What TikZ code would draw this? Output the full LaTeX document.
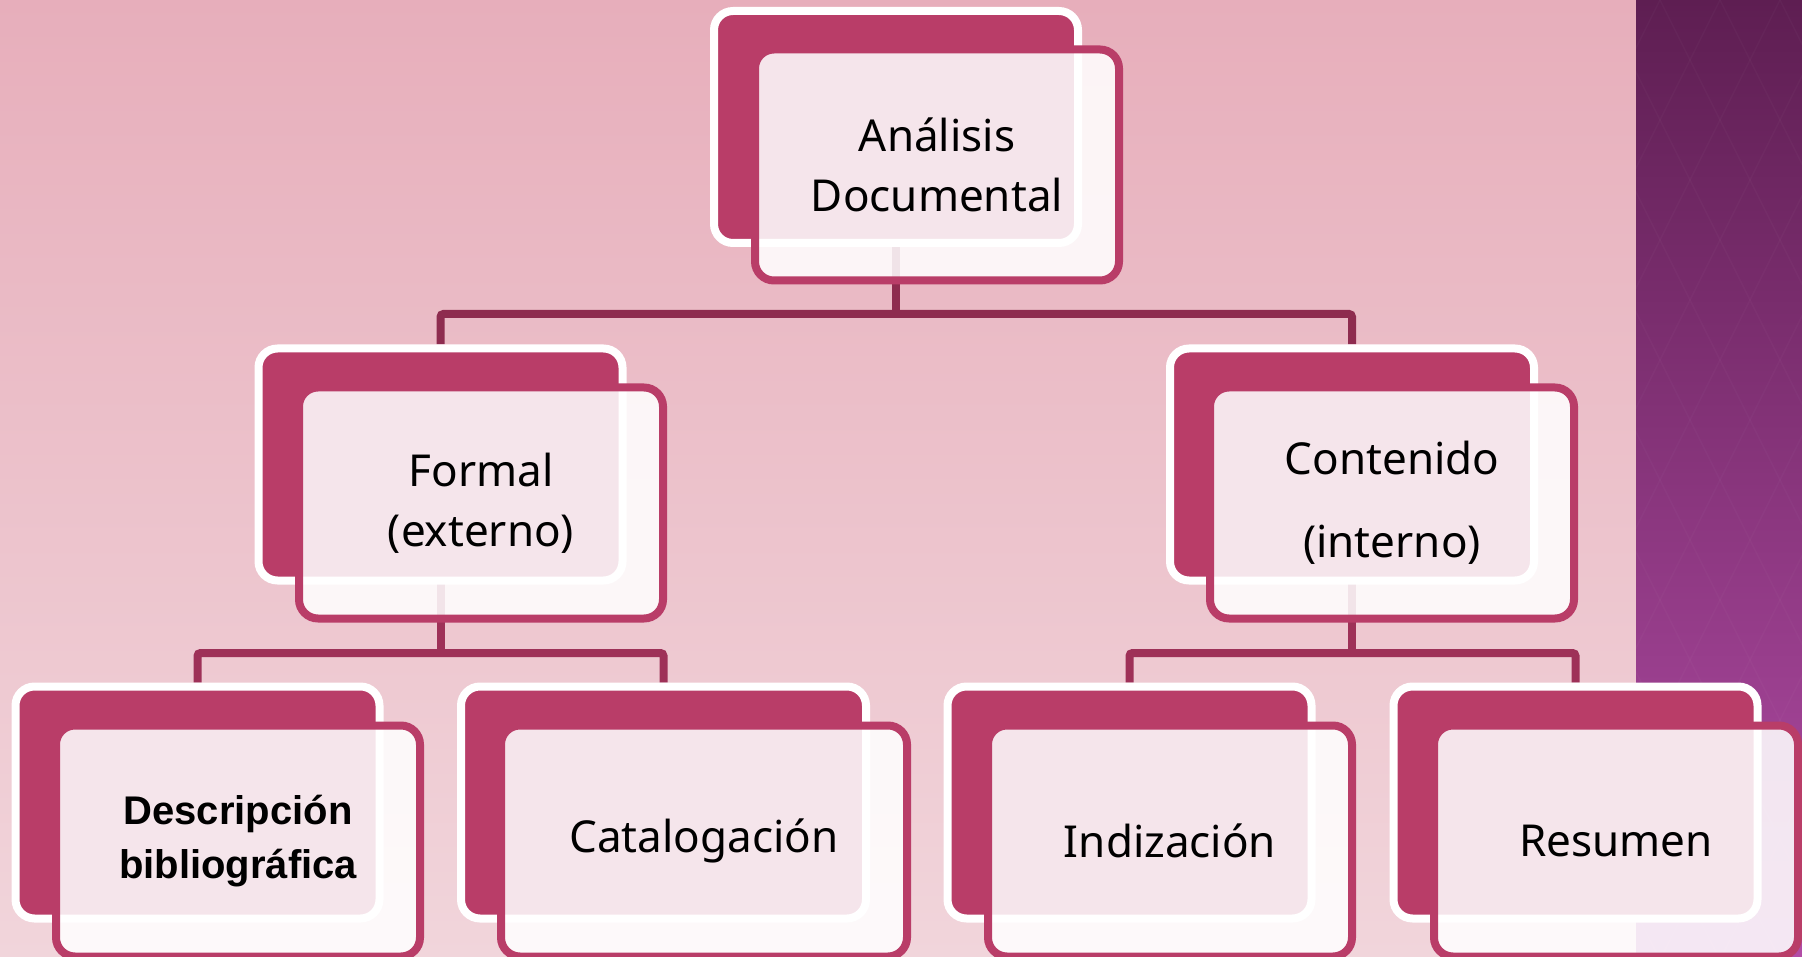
\documentclass[tikz,border=0pt]{standalone}
\usepackage{fontspec}
\setmainfont{Noto Sans}
\newfontfamily\descfont{Liberation Sans}
\definecolor{boxpink}{HTML}{B93D68}
\definecolor{connc}{HTML}{9E3158}
\definecolor{bgtop}{HTML}{E7AEBB}
\definecolor{bgbot}{HTML}{F1D5DB}
\definecolor{purtop}{HTML}{5E1E52}
\definecolor{purbot}{HTML}{B24CA6}
\pgfdeclarelayer{bgfill}
\pgfdeclarelayer{bglines}
\pgfsetlayers{bgfill,bglines,main}
\begin{document}
\begin{tikzpicture}[x=1pt,y=-1pt,
  backbox/.style={draw=white,line width=8pt,fill=boxpink,rounded corners=19pt,
    minimum width=364pt,minimum height=232pt,inner sep=0pt},
  frontbox/.style={draw=boxpink,line width=8pt,fill=white,fill opacity=0.87,
    text opacity=1,rounded corners=19pt,minimum width=364pt,minimum height=231pt,
    inner sep=0pt,align=center,text=black,font=\fontsize{44}{60}\selectfont},
  conn/.style={draw=connc,line width=8pt,rounded corners=3pt}]
\useasboundingbox (0,0) rectangle (1802,957);
\begin{pgfonlayer}{bgfill}
  \shade[top color=bgtop,bottom color=bgbot] (0,0) rectangle (1636,957);
  \shade[top color=purtop,bottom color=purbot] (1636,0) rectangle (1802,957);
  \begin{scope}
    \clip (1636,0) rectangle (1802,957);
    \foreach \k in {-20,...,20}{
      \draw[white,opacity=0.025,line width=1.5pt] (1600+\k*60,0) -- ++(240,480) -- ++(240,480);
      \draw[white,opacity=0.025,line width=1.5pt] (1600+\k*60,0) -- ++(-240,480) -- ++(-240,480);
    }
  \end{scope}
\end{pgfonlayer}
\coordinate (bus1) at (0,314);
\coordinate (bus2) at (0,653);
% top level
\node[backbox] (Ab) at (896,127) {};
\node[frontbox] (A) at (937,165) {Análisis\\Documental};
% level 2
\node[backbox] (Fb) at (440.5,464.5) {};
\node[frontbox] (F) at (481,503) {Formal\\(externo)};
\node[backbox] (Cb) at (1352,464.5) {};
\node[frontbox] (C) at (1392,503) {Contenido\\[23pt](interno)};
% level 3
\node[backbox] (Db) at (197.5,802.5) {};
\node[frontbox,font=\descfont\bfseries\fontsize{40}{54}\selectfont] (D) at (238,841) {Descripción\\bibliográfica};
\node[backbox,minimum width=405pt] (Kb) at (663.5,802.5) {};
\node[frontbox,minimum width=406pt] (K) at (704,841) {Catalogación};
\node[backbox] (Ib) at (1129.5,802.5) {};
\node[frontbox] (I) at (1170,841) {Indización};
\node[backbox] (Rb) at (1575.5,802.5) {};
\node[frontbox] (R) at (1616,841) {Resumen};
\begin{pgfonlayer}{bglines}
  \draw[conn,draw=connc!90!black] (Ab.center) -- (Ab.center |- bus1);
  \draw[conn,draw=connc!90!black] (Fb.north) |- (Cb.north |- bus1) -- (Cb.north);
  \draw[conn] (Fb.center) -- (Fb.center |- bus2);
  \draw[conn] (Db.north) |- (Kb.north |- bus2) -- (Kb.north);
  \draw[conn] (Cb.center) -- (Cb.center |- bus2);
  \draw[conn] (Ib.north) |- (Rb.north |- bus2) -- (Rb.north);
\end{pgfonlayer}
\end{tikzpicture}
\end{document}
